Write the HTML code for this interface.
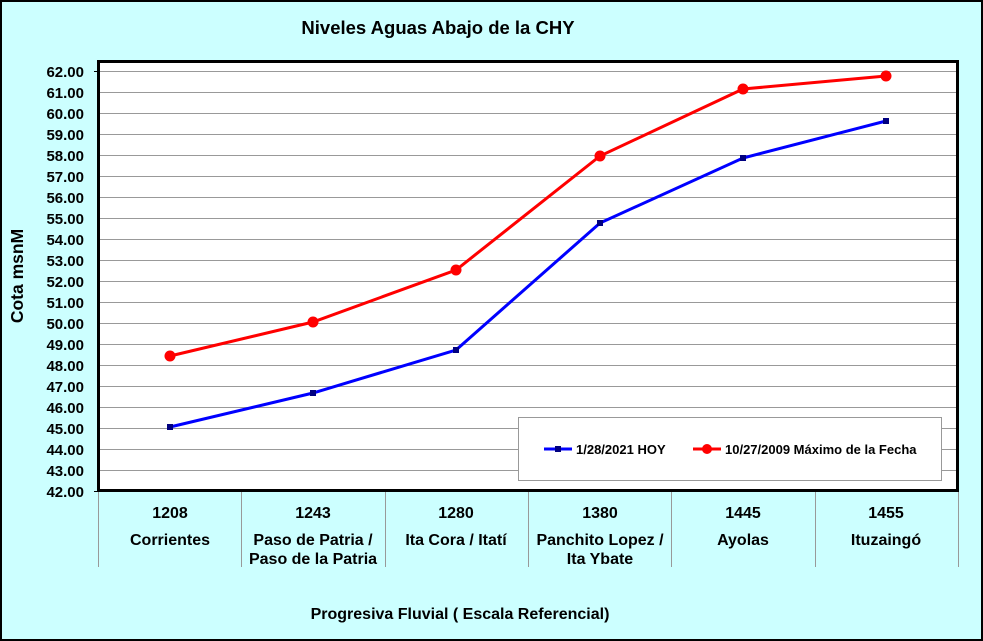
<!DOCTYPE html>
<html><head><style>
body{margin:0;background:#fff}
svg{display:block;font-family:"Liberation Sans",sans-serif;font-weight:bold}
</style></head><body>
<svg width="983" height="641" viewBox="0 0 983 641">
<rect x="1" y="1" width="981" height="639" fill="#CCFFFF" stroke="#000" stroke-width="2"/>
<text x="438" y="34" font-size="18.5" text-anchor="middle">Niveles Aguas Abajo de la CHY</text>
<rect x="98" y="61" width="860" height="430" fill="#fff"/>
<g stroke="#999" stroke-width="1">
<line x1="98" x2="958" y1="71.5" y2="71.5"/><line x1="98" x2="958" y1="92.5" y2="92.5"/><line x1="98" x2="958" y1="113.5" y2="113.5"/><line x1="98" x2="958" y1="134.5" y2="134.5"/><line x1="98" x2="958" y1="155.5" y2="155.5"/><line x1="98" x2="958" y1="176.5" y2="176.5"/><line x1="98" x2="958" y1="197.5" y2="197.5"/><line x1="98" x2="958" y1="218.5" y2="218.5"/><line x1="98" x2="958" y1="239.5" y2="239.5"/><line x1="98" x2="958" y1="260.5" y2="260.5"/><line x1="98" x2="958" y1="281.5" y2="281.5"/><line x1="98" x2="958" y1="302.5" y2="302.5"/><line x1="98" x2="958" y1="323.5" y2="323.5"/><line x1="98" x2="958" y1="344.5" y2="344.5"/><line x1="98" x2="958" y1="365.5" y2="365.5"/><line x1="98" x2="958" y1="386.5" y2="386.5"/><line x1="98" x2="958" y1="407.5" y2="407.5"/><line x1="98" x2="958" y1="428.5" y2="428.5"/><line x1="98" x2="958" y1="449.5" y2="449.5"/><line x1="98" x2="958" y1="470.5" y2="470.5"/>
<line x1="98.5" x2="98.5" y1="491" y2="567"/><line x1="241.5" x2="241.5" y1="491" y2="567"/><line x1="385.5" x2="385.5" y1="491" y2="567"/><line x1="528.5" x2="528.5" y1="491" y2="567"/><line x1="671.5" x2="671.5" y1="491" y2="567"/><line x1="815.5" x2="815.5" y1="491" y2="567"/><line x1="958.5" x2="958.5" y1="491" y2="567"/>
</g>
<g stroke="#000" stroke-width="1"><line x1="94" x2="98" y1="71.5" y2="71.5"/><line x1="94" x2="98" y1="491.5" y2="491.5"/></g>
<rect x="98.5" y="61.5" width="859" height="429" fill="none" stroke="#000" stroke-width="3"/>
<g font-size="15" text-anchor="end">
<text x="84" y="77">62.00</text><text x="84" y="98">61.00</text><text x="84" y="119">60.00</text><text x="84" y="140">59.00</text><text x="84" y="161">58.00</text><text x="84" y="182">57.00</text><text x="84" y="203">56.00</text><text x="84" y="224">55.00</text><text x="84" y="245">54.00</text><text x="84" y="266">53.00</text><text x="84" y="287">52.00</text><text x="84" y="308">51.00</text><text x="84" y="329">50.00</text><text x="84" y="350">49.00</text><text x="84" y="371">48.00</text><text x="84" y="392">47.00</text><text x="84" y="413">46.00</text><text x="84" y="434">45.00</text><text x="84" y="455">44.00</text><text x="84" y="476">43.00</text><text x="84" y="497">42.00</text>
</g>
<text transform="translate(23,276) rotate(-90)" font-size="17.5" text-anchor="middle">Cota msnM</text>
<g font-size="16" text-anchor="middle">
<text x="170" y="518">1208</text><text x="313" y="518">1243</text><text x="456" y="518">1280</text><text x="600" y="518">1380</text><text x="743" y="518">1445</text><text x="886" y="518">1455</text>
<text x="170" y="545">Corrientes</text><text x="313" y="545">Paso de Patria /</text><text x="313" y="564">Paso de la Patria</text><text x="456" y="545">Ita Cora / Itatí</text><text x="600" y="545">Panchito Lopez /</text><text x="600" y="564">Ita Ybate</text><text x="743" y="545">Ayolas</text><text x="886" y="545">Ituzaingó</text>
</g>
<text x="460" y="619" font-size="16" text-anchor="middle">Progresiva Fluvial ( Escala Referencial)</text>
<polyline points="170,427 313,393 456,350 600,223 743,158 886,121" fill="none" stroke="#0000FF" stroke-width="3"/>
<g fill="#000080"><rect x="167" y="424" width="6" height="6"/><rect x="310" y="390" width="6" height="6"/><rect x="453" y="347" width="6" height="6"/><rect x="597" y="220" width="6" height="6"/><rect x="740" y="155" width="6" height="6"/><rect x="883" y="118" width="6" height="6"/></g>
<polyline points="170,356 313,322 456,270 600,156 743,89 886,76" fill="none" stroke="#FF0000" stroke-width="3"/>
<g fill="#FF0000"><circle cx="170" cy="356" r="5.5"/><circle cx="313" cy="322" r="5.5"/><circle cx="456" cy="270" r="5.5"/><circle cx="600" cy="156" r="5.5"/><circle cx="743" cy="89" r="5.5"/><circle cx="886" cy="76" r="5.5"/></g>
<rect x="518.5" y="417.5" width="423" height="63" fill="#fff" stroke="#999"/>
<line x1="544" x2="572" y1="449" y2="449" stroke="#0000FF" stroke-width="3"/><rect x="555" y="446" width="6" height="6" fill="#000080"/>
<text x="576" y="454" font-size="13">1/28/2021 HOY</text>
<line x1="693" x2="721" y1="449" y2="449" stroke="#FF0000" stroke-width="3"/><circle cx="707" cy="449" r="5" fill="#FF0000"/>
<text x="725" y="454" font-size="13">10/27/2009 Máximo de la Fecha</text>
</svg>
</body></html>
